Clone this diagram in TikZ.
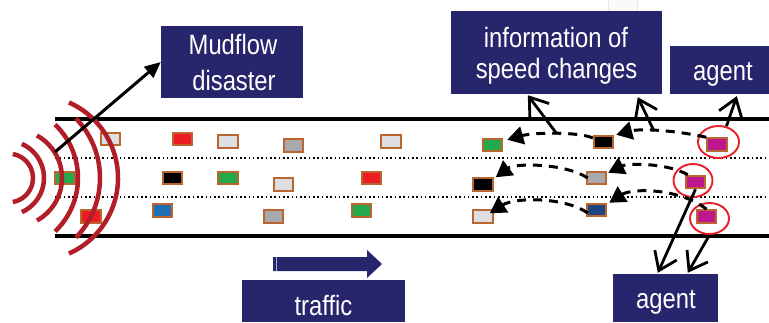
\documentclass[tikz,border=0pt]{standalone}
\usepackage{fontspec}
\setmainfont{Liberation Sans}
\usetikzlibrary{arrows.meta,shapes.geometric,calc}
\definecolor{navy}{RGB}{39,37,108}
\definecolor{carbrown}{RGB}{185,102,48}
\definecolor{cred}{RGB}{237,28,36}
\definecolor{clight}{RGB}{220,222,226}
\definecolor{cgray}{RGB}{167,169,172}
\definecolor{cgreen}{RGB}{35,168,75}
\definecolor{cblue}{RGB}{30,110,180}
\definecolor{cnavy}{RGB}{29,69,130}
\definecolor{cmag}{RGB}{190,22,140}
\definecolor{arcred}{RGB}{178,30,40}
\definecolor{ringred}{RGB}{232,30,40}
\newcommand\btxt[1]{\scalebox{0.85}[1]{\fontsize{28}{30}\selectfont #1}}
\begin{document}
\begin{tikzpicture}[x=1pt,y=-1pt,
  navybox/.style={fill=navy,draw=none,inner sep=0pt},
  boxtxt/.style={text=white,inner sep=0pt,anchor=base},
  car/.style={draw=carbrown,line width=1.8pt,minimum width=19.7pt,minimum height=12.7pt,inner sep=0pt},
  ring/.style={draw=ringred,line width=1.9pt,ellipse,inner sep=0pt},
  roadline/.style={line width=4.5pt},
  dotline/.style={line width=1.8pt,dash pattern=on 1.6pt off 2.7pt},
  wave/.style={draw=arcred,line width=4.5pt},
  dasharrow/.style={line width=3pt,dash pattern=on 9pt off 7pt,-{Triangle[length=16pt,width=18pt]}},
  infoarrow/.style={line width=2.8pt,-{Straight Barb[length=17pt,width=24pt]}},
  mudarrow/.style={line width=3pt,-{Triangle[length=16pt,width=14pt]}}
]
\useasboundingbox (0,0) rectangle (769,322);
% faint mark at top
\draw[draw=gray!18,fill=gray!4,line width=0.8pt] (608,-2) rectangle (637,11);
% road
\draw[roadline] (55,119) -- (769,119);
\draw[roadline] (55,236) -- (769,236);
\draw[dotline] (55,158) -- (769,158);
\draw[dotline] (55,197) -- (769,197);
% cars
\node[car,fill=clight] (c1) at (110.5,139) {};
\node[car,fill=cred] (c2) at (182.5,139) {};
\node[car,fill=clight] (c3) at (228,141.5) {};
\node[car,fill=cgray] (c4) at (293.5,145.5) {};
\node[car,fill=clight] (c5) at (391,141.5) {};
\node[car,fill=cgreen] (c6) at (492.5,145) {};
\node[car,fill=black] (c7) at (603.5,142) {};
\node[car,fill=cmag] (c8) at (717,144.5) {};
\node[car,fill=cgreen] (c9) at (65,178) {};
\node[car,fill=black] (c10) at (172.5,178) {};
\node[car,fill=cgreen] (c11) at (228,178) {};
\node[car,fill=clight] (c12) at (283.5,184.5) {};
\node[car,fill=cred] (c13) at (371.5,178) {};
\node[car,fill=black] (c14) at (483,184.5) {};
\node[car,fill=cgray] (c15) at (596.5,178) {};
\node[car,fill=cmag] (c16) at (695.5,182) {};
\node[car,fill=cred] (c17) at (91,216.5) {};
\node[car,fill=cblue] (c18) at (162.5,210.5) {};
\node[car,fill=cgray] (c19) at (273.5,216.5) {};
\node[car,fill=cgreen] (c20) at (361.5,210.5) {};
\node[car,fill=clight] (c21) at (483,216.5) {};
\node[car,fill=cnavy] (c22) at (596.5,210) {};
\node[car,fill=cmag] (c23) at (706.5,216.5) {};
% rings
\node[ring,minimum width=41pt,minimum height=32pt] (e1) at (718.5,142) {};
\node[ring,minimum width=39pt,minimum height=33pt] (e2) at (693,180.5) {};
\node[ring,minimum width=39pt,minimum height=31pt] (e3) at (709.5,218.5) {};
% waves
\draw[wave] (8.6,178) ++(80:24.4pt) arc[start angle=80,end angle=-80,radius=24.4pt];
\draw[wave] (6.7,178) ++(66:37.3pt) arc[start angle=66,end angle=-66,radius=37.3pt];
\draw[wave] (13.4,178) ++(61:48.6pt) arc[start angle=61,end angle=-61,radius=48.6pt];
\draw[wave] (4.3,178) ++(46.5:73.7pt) arc[start angle=46.5,end angle=-46.5,radius=73.7pt];
\draw[wave] (14.2,178) ++(44:85.8pt) arc[start angle=44,end angle=-44,radius=85.8pt];
\draw[wave] (35.3,178) ++(66:82.7pt) arc[start angle=66,end angle=-66,radius=82.7pt];
% boxes
\node[navybox,minimum width=142pt,minimum height=72pt] (mud) at (232,62) {};
\node[navybox,minimum width=211pt,minimum height=83pt] (info) at (556.5,52.5) {};
\node[navybox,minimum width=99pt,minimum height=48pt] (agentT) at (719.5,70) {};
\node[navybox,minimum width=105pt,minimum height=48pt] (agentB) at (665.5,298) {};
\node[navybox,minimum width=163pt,minimum height=42pt] (traffic) at (323.5,301) {};
\node[boxtxt] (t1) at (233,54) {\btxt{Mudflow}};
\node[boxtxt] (t2) at (234,90) {\btxt{disaster}};
\node[boxtxt] (t3) at (556,47) {\btxt{information of}};
\node[boxtxt] (t4) at (556.5,78) {\btxt{speed changes}};
\node[boxtxt] (t5) at (723,80) {\btxt{agent}};
\node[boxtxt] (t6) at (666,308) {\btxt{agent}};
\node[boxtxt] (t7) at (323.5,315) {\btxt{traffic}};
% traffic arrow
\fill[navy] (273,257) -- (367,257) -- (367,250) -- (382,264) -- (367,278) -- (367,271) -- (273,271) -- cycle;
\draw[white,opacity=0.6,line width=0.7pt] (276.5,257) -- (276.5,271);
% mudflow arrow
\coordinate (mudsrc) at (55,152);
\draw[mudarrow] (mudsrc) -- (mud.west);
% dashed speed-change arrows
\draw[dasharrow] (c8.north west) .. controls (668,129) and (638,129) .. ($(c7.north east)+(2,0)$);
\draw[dasharrow] ($(c7.west)+(0,-4)$) .. controls (580,132) and (535,132) .. ($(c6.north east)+(4,2)$);
\draw[dasharrow] ($(c16.north west)+(3,0)$) .. controls (668,163) and (628,163) .. ($(c15.north east)+(1,2)$);
\draw[dasharrow] ($(c15.west)+(2,0)$) .. controls (565,163) and (515,163) .. ($(c14.north east)+(2,0)$);
\draw[dasharrow] (c23.north) .. controls (680,188) and (632,188) .. ($(c22.north east)+(2,0)$);
\draw[dasharrow] ($(c22.west)+(2,3)$) .. controls (565,197) and (515,197) .. ($(c21.north east)+(-4,4)$);
% solid arrows to boxes
\coordinate (k1) at (654,131);
\coordinate (k2) at (557,134);
\draw[infoarrow] (k1) -- ($(info.south west)+(187,3)$);
\draw[infoarrow] (k2) -- ($(info.south west)+(77,1)$);
\draw[infoarrow] ($(e1.north)+(8,1)$) -- ($(agentT.south west)+(67,2)$);
\draw[infoarrow] (c16.south) -- ($(agentB.north west)+(45,-1)$);
\draw[infoarrow] (e3.south) -- ($(agentB.north west)+(75,-1)$);
\end{tikzpicture}
\end{document}
